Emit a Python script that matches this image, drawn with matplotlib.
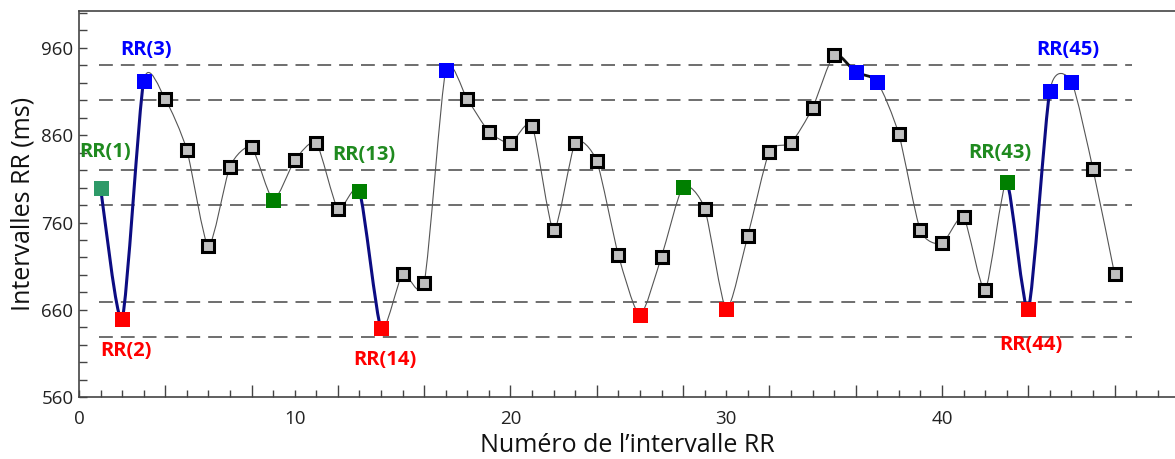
import numpy as np
import matplotlib
matplotlib.use("Agg")
import matplotlib.pyplot as plt
from matplotlib.path import Path
from matplotlib.patches import PathPatch
from matplotlib.ticker import MultipleLocator, FuncFormatter

plt.rcParams['font.family'] = ['Open Sans', 'DejaVu Sans']

# RR intervals (ms), numbered from 1
rr_values = [800, 650, 922, 901, 843, 733, 824, 846, 786, 831,
             851, 776, 796, 639, 701, 691, 934, 901, 864, 851,
             871, 751, 851, 830, 723, 654, 721, 801, 776, 661,
             745, 841, 851, 891, 952, 932, 921, 861, 751, 736,
             766, 683, 806, 661, 911, 921, 821, 701]
rr_index = list(range(1, len(rr_values) + 1))

# coloured beats
first_beat = [1]
green_beats = [9, 13, 28, 43]
red_beats = [2, 14, 26, 30, 44]
blue_beats = [3, 17, 36, 37, 45, 46]

# segments drawn thick (start beat -> next beat)
navy_segments = [1, 2, 13, 43, 44]
black_segments = [35, 36]

# horizontal reference levels (ms)
ref_levels = [940, 900, 820, 780, 669, 629]

# annotated beats: beat, text, colour, (dx, dy) label offset
labels = [
    (1, "RR(1)", "#1f8a1f", (0.2, 41)),
    (2, "RR(2)", "#ff0000", (0.2, -37)),
    (3, "RR(3)", "#0000ff", (0.1, 35)),
    (13, "RR(13)", "#1f8a1f", (0.2, 41)),
    (14, "RR(14)", "#ff0000", (0.2, -36)),
    (43, "RR(43)", "#1f8a1f", (-0.3, 34)),
    (44, "RR(44)", "#ff0000", (0.1, -41)),
    (45, "RR(45)", "#0000ff", (0.85, 46)),
]

SMOOTH = 1 / 9.0


def bezier_ctrl(k):
    # control points of the smoothed piece from beat k+1 to beat k+2 (0-based k)
    n = len(rr_values)
    ids = [max(k - 1, 0), k, k + 1, min(k + 2, n - 1)]
    p0, p1, p2, p3 = [np.array([rr_index[j], rr_values[j]], dtype=float) for j in ids]
    return p1, p1 + (p2 - p0) * SMOOTH, p2 - (p3 - p1) * SMOOTH, p2


def spline_path():
    verts, codes = [], []
    for k in range(len(rr_values) - 1):
        p1, c1, c2, p2 = bezier_ctrl(k)
        if k == 0:
            verts.append(p1)
            codes.append(Path.MOVETO)
        verts += [c1, c2, p2]
        codes += [Path.CURVE4] * 3
    return Path(verts, codes)


def segment_path(i):
    p1, c1, c2, p2 = bezier_ctrl(i - 1)
    return Path([p1, c1, c2, p2], [Path.MOVETO, Path.CURVE4, Path.CURVE4, Path.CURVE4])


fig = plt.figure(figsize=(11.75, 4.59), dpi=100)
ax = fig.add_axes([0.0672, 0.1344, 0.9328, 0.8416])

for lvl in ref_levels:
    ax.plot([0.95, 48.8], [lvl, lvl], color="#555555", lw=1.2,
            dashes=(8.3, 4.8), zorder=1)

ax.add_patch(PathPatch(spline_path(), fill=False,
                       edgecolor="#555555", lw=0.8, zorder=2))
for s in navy_segments:
    ax.add_patch(PathPatch(segment_path(s), fill=False,
                           edgecolor="#0c0c82", lw=2.2, zorder=3))
for s in black_segments:
    ax.add_patch(PathPatch(segment_path(s), fill=False,
                           edgecolor="#111111", lw=2.0, zorder=3))

special = set(first_beat + green_beats + red_beats + blue_beats)
gx = [i for i in rr_index if i not in special]
gy = [rr_values[i - 1] for i in gx]
ax.plot(gx, gy, ls="none", marker="s", ms=8.6, mfc="#c0c0c0",
        mec="black", mew=2.2, zorder=4)

for beats, col in [(first_beat, "#2e9a68"), (green_beats, "#007f00"),
                   (red_beats, "#ff0000"), (blue_beats, "#0000ff")]:
    ax.plot(beats, [rr_values[i - 1] for i in beats], ls="none", marker="s",
            ms=10.8, mfc=col, mec=col, mew=0, zorder=5)

for beat, txt, col, (dx, dy) in labels:
    ax.text(beat + dx, rr_values[beat - 1] + dy, txt, color=col,
            fontsize=14.5, fontweight="bold", ha="center", va="center",
            zorder=6)

ax.set_xlim(0, 50.8)
ax.set_ylim(560, 1002)

ax.xaxis.set_major_locator(MultipleLocator(1))
ax.xaxis.set_major_formatter(FuncFormatter(
    lambda v, p: f"{int(round(v))}" if int(round(v)) % 10 == 0 and v < 45 else ""))
ax.yaxis.set_major_locator(MultipleLocator(20))
ax.yaxis.set_major_formatter(FuncFormatter(
    lambda v, p: f"{int(round(v))}" if int(round(v)) % 100 == 60 else ""))

ax.tick_params(axis="x", direction="in", length=5, width=1.0,
               color="#444444", labelsize=13.5, pad=9, labelcolor="#222222")
ax.tick_params(axis="y", direction="in", length=6, width=1.0,
               color="#444444", labelsize=13.5, pad=4, labelcolor="#222222")
ax.tick_params(top=False, right=False)

fig.canvas.draw()
for t in ax.xaxis.get_major_ticks():
    v = int(round(t.get_loc()))
    if v % 4 == 0 and v > 0:
        t.tick1line.set_markersize(9)

for side in ["left", "bottom", "top"]:
    ax.spines[side].set_color("#444444")
    ax.spines[side].set_linewidth(1.2)
ax.spines["right"].set_visible(False)

ax.set_xlabel("Numéro de l’intervalle RR", fontsize=18, color="#111111",
              labelpad=4)
ax.set_ylabel("Intervalles RR (ms)", fontsize=18, color="#111111",
              labelpad=4)

fig.savefig("out.png", dpi=100)
